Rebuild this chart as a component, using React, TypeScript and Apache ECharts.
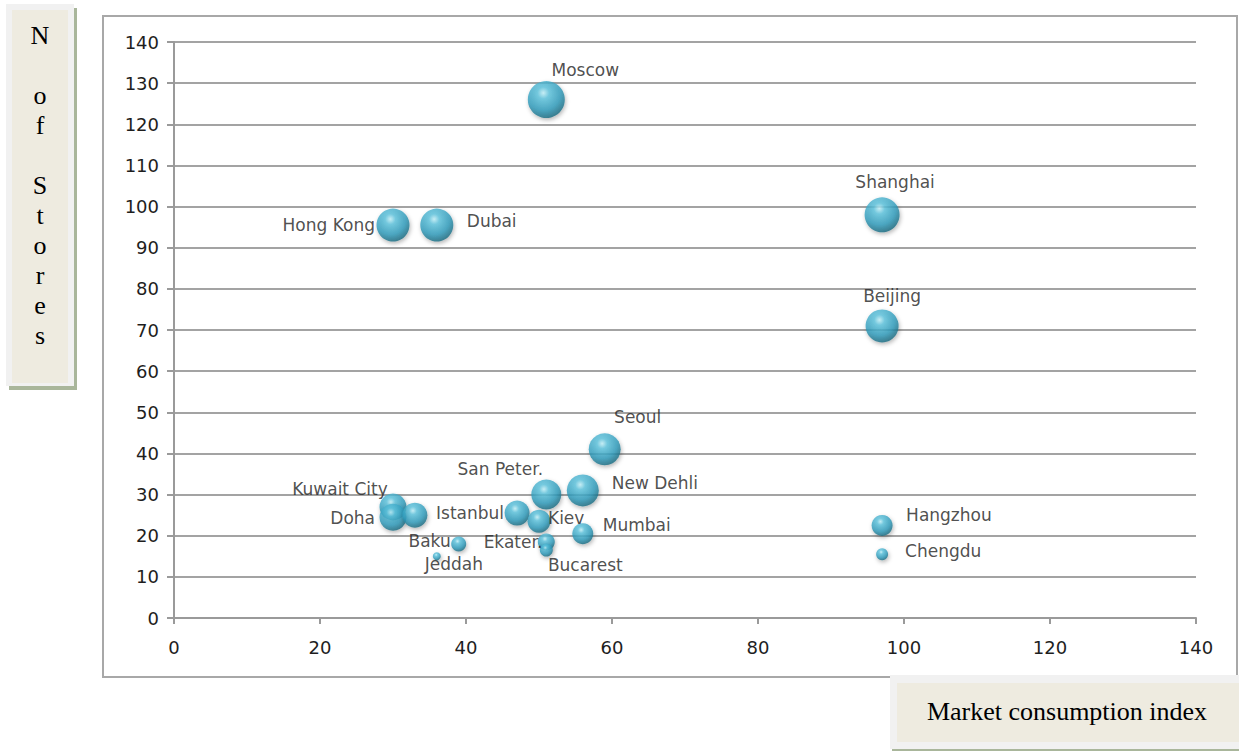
import React, { useEffect, useRef } from "react";
import * as echarts from "echarts";

// City names, market consumption index (x), number of stores (y) and bubble weight
const cities = [
  "Moscow", "Hong Kong", "Dubai", "Shanghai", "Beijing", "Seoul", "San Peter.",
  "New Dehli", "Kuwait City", "Doha", "", "Istanbul", "Kiev", "Mumbai",
  "Ekater.", "Bucarest", "Baku", "Jeddah", "Hangzhou", "Chengdu",
];
const marketIndex = [51, 30, 36, 97, 97, 59, 51, 56, 30, 30, 33, 47, 50, 56, 51, 51, 39, 36, 97, 97];
const storeCount = [126, 95.5, 95.5, 98, 71, 41, 30, 31, 27, 24.5, 25, 25.5, 23.5, 20.5, 18.5, 16.5, 18, 15, 22.5, 15.5];
const bubbleWeight = [37, 33, 33, 35, 33, 32, 30, 32, 27, 27, 25, 25, 23, 21, 17, 13, 15, 8, 21, 12];

const xTicks = [0, 20, 40, 60, 80, 100, 120, 140];
const yTitle = ["N", "", "o", "f", "", "S", "t", "o", "r", "e", "s"];
const xTitle = "Market consumption index";

// Label placement per city: anchor (c = centred, l = text left of bubble, r = right), dx, dy
const labelPlacement: Record<string, [string, number, number]> = {
  "Moscow": ["c", 39, -30],
  "Hong Kong": ["l", -18, 0],
  "Dubai": ["r", 30, -4],
  "Shanghai": ["c", 13, -33],
  "Beijing": ["c", 10, -30],
  "Seoul": ["c", 33, -32],
  "San Peter.": ["c", -46, -26],
  "New Dehli": ["r", 29, -7],
  "Kuwait City": ["c", -53, -18],
  "Doha": ["l", -18, 1],
  "Istanbul": ["l", -13, 0],
  "Kiev": ["r", 9, -3],
  "Mumbai": ["r", 20, -9],
  "Ekater.": ["l", -4, 0],
  "Bucarest": ["c", 39, 15],
  "Baku": ["l", -8, -3],
  "Jeddah": ["c", 17, 8],
  "Hangzhou": ["r", 24, -10],
  "Chengdu": ["r", 23, -3],
};

const sphere = {
  type: "radial",
  x: 0.42,
  y: 0.32,
  r: 0.72,
  colorStops: [
    { offset: 0, color: "#c2f1fa" },
    { offset: 0.22, color: "#5ec4de" },
    { offset: 0.65, color: "#2e9bbb" },
    { offset: 1, color: "#166276" },
  ],
};

export default function App() {
  const ref = useRef<HTMLDivElement>(null);

  useEffect(() => {
    if (!ref.current) return;
    const chart = echarts.init(ref.current, undefined, { renderer: "svg" });

    const points = cities.map((name, i) => {
      const place = labelPlacement[name] || ["c", 0, 0];
      const align = place[0] === "l" ? "right" : place[0] === "r" ? "left" : "center";
      const half = bubbleWeight[i] / 2;
      return {
        name,
        value: [marketIndex[i], storeCount[i], bubbleWeight[i]],
        label: {
          show: name !== "",
          // position relative to the symbol's bounding box top-left
          position: [half + place[1], half + place[2]],
          align,
          verticalAlign: "middle",
        },
      };
    });

    const yTitleTexts = yTitle.map((ch, i) => ({
      type: "text",
      x: 40,
      y: 35 + i * 30,
      style: {
        text: ch,
        font: '26px "Liberation Serif", "Times New Roman", serif',
        fill: "#000",
        align: "center",
        verticalAlign: "middle",
      },
    }));

    chart.setOption({
      animation: false,
      backgroundColor: "#ffffff",
      grid: { left: 174, right: 43, top: 42, bottom: 133 },
      xAxis: {
        type: "value",
        min: 0,
        max: 140,
        interval: 20,
        axisLine: { show: true, onZero: false, lineStyle: { color: "#9a9a9a", width: 2 } },
        axisTick: { show: true, length: 6, lineStyle: { color: "#9a9a9a", width: 2 } },
        axisLabel: {
          margin: 20,
          color: "#1e1e1e",
          fontSize: 18,
          fontFamily: '"DejaVu Sans", Verdana, sans-serif',
          formatter: (v: number) => (xTicks.includes(v) ? String(v) : ""),
        },
        splitLine: { show: false },
      },
      yAxis: {
        type: "value",
        min: 0,
        max: 140,
        interval: 10,
        axisLine: { show: true, lineStyle: { color: "#9a9a9a", width: 2 } },
        axisTick: { show: true, length: 7, lineStyle: { color: "#9a9a9a", width: 2 } },
        axisLabel: {
          margin: 15,
          color: "#1e1e1e",
          fontSize: 18,
          fontFamily: '"DejaVu Sans", Verdana, sans-serif',
        },
        splitLine: { show: true, lineStyle: { color: "#a3a3a3", width: 2 } },
      },
      graphic: [
        // chart frame
        {
          type: "rect",
          z: -10,
          silent: true,
          shape: { x: 103, y: 16, width: 1134, height: 661 },
          style: { fill: "none", stroke: "#a8a8a8", lineWidth: 2 },
        },
        // vertical axis title box
        {
          type: "rect",
          shape: { x: 9, y: 8, width: 68, height: 382 },
          style: { fill: "#a9b69b" },
        },
        {
          type: "rect",
          shape: { x: 6, y: 4, width: 68, height: 382 },
          style: { fill: "#f1f1f1" },
        },
        {
          type: "rect",
          shape: { x: 12, y: 10, width: 56, height: 373 },
          style: { fill: "#eeebe0" },
        },
        ...yTitleTexts,
        // horizontal axis title box
        {
          type: "rect",
          shape: { x: 892, y: 678, width: 347, height: 73 },
          style: { fill: "#a9b69b" },
        },
        {
          type: "rect",
          shape: { x: 890, y: 675, width: 349, height: 74 },
          style: { fill: "#f1f1f1" },
        },
        {
          type: "rect",
          shape: { x: 897, y: 683, width: 342, height: 59 },
          style: { fill: "#eeebe0" },
        },
        {
          type: "text",
          x: 1067,
          y: 711,
          style: {
            text: xTitle,
            font: '26px "Liberation Serif", "Times New Roman", serif',
            fill: "#000",
            align: "center",
            verticalAlign: "middle",
          },
        },
      ],
      series: [
        {
          type: "scatter",
          data: points,
          symbol: "circle",
          symbolSize: (v: number[]) => v[2],
          itemStyle: {
            color: sphere,
            shadowBlur: 4,
            shadowColor: "rgba(0,0,0,0.35)",
            shadowOffsetX: 1,
            shadowOffsetY: 2,
          },
          label: {
            show: true,
            formatter: (p: any) => p.name,
            color: "#222",
            fontSize: 17,
            fontFamily: '"DejaVu Sans", Verdana, sans-serif',
          },
          labelLayout: { hideOverlap: false },
        },
      ],
    });

    return () => chart.dispose();
  }, []);

  return (
    <div
      ref={ref}
      style={{ position: "absolute", left: 0, top: 0, width: 1239, height: 751 }}
    />
  );
}
